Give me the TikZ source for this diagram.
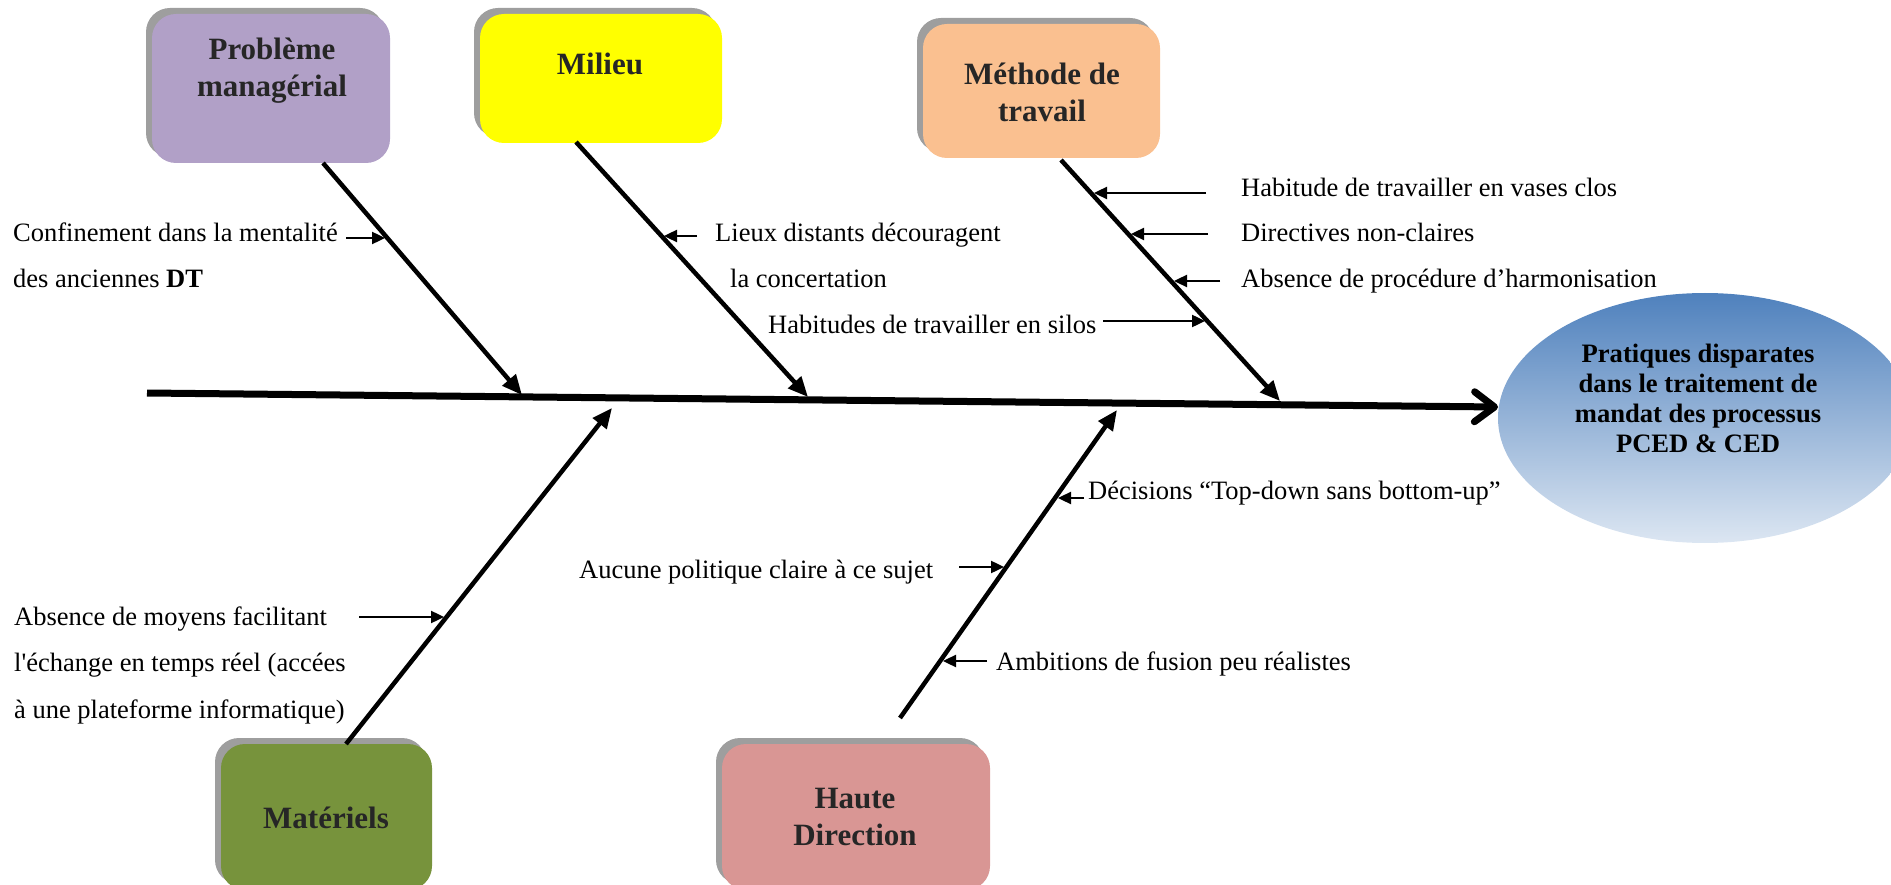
\documentclass[tikz,border=0pt]{standalone}
\usepackage{fontspec}
\setmainfont{Liberation Serif}
\newfontfamily\rawrm{Liberation Serif}
\usetikzlibrary{arrows.meta,shapes.geometric,shadows}
\definecolor{purp}{HTML}{B1A0C7}
\definecolor{yel}{HTML}{FFFF00}
\definecolor{orng}{HTML}{FAC090}
\definecolor{olivegreen}{HTML}{77933C}
\definecolor{pinkk}{HTML}{D99694}
\definecolor{shad}{HTML}{9E9E9E}
\definecolor{boxtxt}{HTML}{262626}
\definecolor{ellTop}{HTML}{4F81BD}
\definecolor{ellBot}{HTML}{DCE6F2}
\begin{document}
\begin{tikzpicture}[x=1pt,y=-1pt,
  catbox/.style={rectangle, rounded corners=24pt, inner sep=0pt, draw=none,
    general shadow={fill=shad, shadow xshift=-6pt, shadow yshift=6pt}},
  cattxt/.style={font=\fontsize{31}{37}\selectfont\bfseries, text=boxtxt, align=center, inner sep=0pt},
  lbl/.style={font=\fontsize{26.5}{46}\selectfont, anchor=base west, inner sep=0pt},
  spine/.style={line width=7pt, -{Straight Barb[length=20pt,width=30pt,round]}},
  branch/.style={line width=4.5pt, -{Triangle[length=20pt,width=17pt]}},
  sub/.style={line width=2.4pt, -{Triangle[length=13pt,width=12pt]}}]
\useasboundingbox (0,0) rectangle (1891,885);

% category boxes
\node[catbox, fill=purp, minimum width=238pt, minimum height=149pt] (pm) at (271,88.5) {};
\node[catbox, fill=yel, minimum width=242pt, minimum height=129pt] (mi) at (601,78.5) {};
\node[catbox, fill=orng, minimum width=237pt, minimum height=134pt] (me) at (1041.5,91) {};
\node[catbox, fill=olivegreen, minimum width=211pt, minimum height=146pt] (ma) at (326.5,817) {};
\node[catbox, fill=pinkk, minimum width=268pt, minimum height=146pt] (hd) at (856,817) {};

\node[cattxt, anchor=center] (pmt) at (272,71) {Problème\\managérial};
\node[cattxt, anchor=base] (mit) at (600,75) {Milieu};
\node[cattxt, anchor=center] (met) at (1042,92) {Méthode de\\travail};
\node[cattxt, anchor=base] (mat) at (326,828) {Matériels};
\node[cattxt, anchor=center] (hdt) at (855,817) {Haute\\Direction};

% effect
\node[ellipse, minimum width=414pt, minimum height=250pt, inner sep=0pt,
      top color=ellTop, bottom color=ellBot, draw=none] (eff) at (1705,418) {};
\node[font=\fontsize{26.6}{30}\selectfont\bfseries, align=center, inner sep=0pt]
      (efft) at (1698,398) {Pratiques disparates\\dans le traitement de\\mandat des processus\\PCED \& CED};

% spine
\coordinate (spS) at (147,393);
\coordinate (spE) at (1498,407);
\draw[spine] (spS) -- (spE);

% branches
\coordinate (b1s) at (323,163);  \coordinate (b1e) at (522,395);
\coordinate (b2s) at (576,142);  \coordinate (b2e) at (808,397);
\coordinate (b3s) at (1061,160); \coordinate (b3e) at (1280,401);
\coordinate (b4s) at (346,744);  \coordinate (b4e) at (612,408);
\coordinate (b5s) at (900,718);  \coordinate (b5e) at (1117,410);
\draw[branch] (b1s) -- (b1e);
\draw[branch] (b2s) -- (b2e);
\draw[branch] (b3s) -- (b3e);
\draw[branch] (b4s) -- (b4e);
\draw[branch] (b5s) -- (b5e);

% labels
\node[lbl] (l1a) at (13,242) {Confinement dans la mentalité};
\node[lbl] (l1b) at (13,288) {des anciennes \textbf{DT}};
\node[lbl] (l2a) at (715,242) {Lieux distants découragent};
\node[lbl] (l2b) at (730,288) {la concertation};
\node[lbl] (l3a) at (768,334) {Habitudes de travailler en silos};
\node[lbl] (l3b) at (1241,197) {Habitude de travailler en vases clos};
\node[lbl] (l3c) at (1241,242) {Directives non-claires};
\node[lbl] (l3d) at (1241,288) {Absence de procédure d’harmonisation};
\node[lbl] (l5a) at (1088,499) {Décisions “Top-down sans bottom-up”};
\node[lbl] (l5b) at (579,578) {Aucune politique claire à ce sujet};
\node[lbl] (l5c) at (996,670) {Ambitions de fusion peu réalistes};
\node[lbl] (l4a) at (14,625) {Absence de moyens facilitant};
\node[lbl] (l4b) at (14,671) {{\rawrm l'}échange en temps réel (accées};
\node[lbl] (l4c) at (14,718) {à une plateforme informatique)};

% sub-cause arrows
\coordinate (a1s) at (346,238);  \coordinate (a1e) at (385,238);
\coordinate (a2s) at (697,236);  \coordinate (a2e) at (664,236);
\coordinate (a3s) at (1103,321); \coordinate (a3e) at (1205,321);
\coordinate (a4s) at (1206,193); \coordinate (a4e) at (1094,193);
\coordinate (a5s) at (1208,234); \coordinate (a5e) at (1131,234);
\coordinate (a6s) at (1220,281); \coordinate (a6e) at (1174,281);
\coordinate (a7s) at (1084,498); \coordinate (a7e) at (1058,498);
\coordinate (a8s) at (959,567);  \coordinate (a8e) at (1004,567);
\coordinate (a9s) at (987,661);  \coordinate (a9e) at (943,661);
\coordinate (a10s) at (359,617); \coordinate (a10e) at (444,617);
\foreach \i in {1,...,10} {\draw[sub] (a\i s) -- (a\i e);}
\end{tikzpicture}
\end{document}
